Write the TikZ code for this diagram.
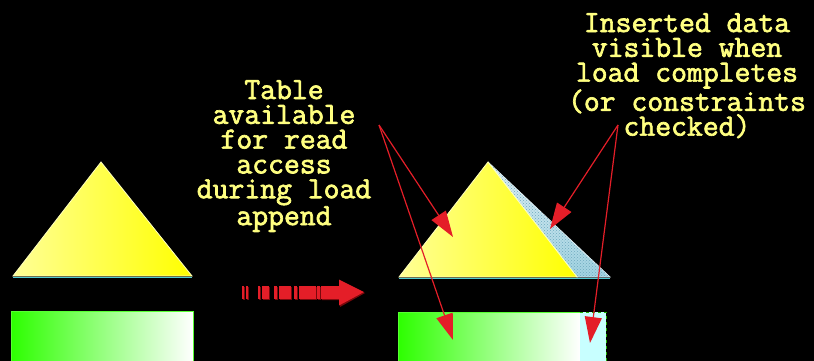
\documentclass[tikz,border=0pt]{standalone}
\usepackage{fontspec}
\newfontfamily\courb[FakeBold=2.2]{Latin Modern Mono}
\usetikzlibrary{arrows.meta,patterns}
\definecolor{txtyellow}{RGB}{255,255,128}
\definecolor{redarrow}{RGB}{228,30,40}
\definecolor{darkred}{RGB}{120,8,12}
\definecolor{ltyellow}{RGB}{255,255,150}
\definecolor{yel}{RGB}{255,255,0}
\definecolor{paleyel}{RGB}{255,255,190}
\definecolor{grn}{RGB}{45,255,0}
\definecolor{skyA}{RGB}{225,240,245}
\definecolor{skyB}{RGB}{160,210,225}
\definecolor{speck}{RGB}{110,170,190}
\definecolor{cyanbox}{RGB}{200,255,255}
\definecolor{edgecyan}{RGB}{80,200,210}
\tikzset{
  lbl/.style={font=\courb\fontsize{30.8}{24.8}\selectfont, text=txtyellow, align=center, inner sep=0pt, anchor=north},
  pointer/.style={draw=redarrow, line width=1.2pt, -{Triangle[length=26pt,width=17pt]}},
  tri/.style={left color=ltyellow, right color=yel, draw=paleyel, line width=0.8pt},
  grbox/.style={left color=grn, right color=white, draw=grn!80!white, line width=0.8pt},
}
\begin{document}
\begin{tikzpicture}[x=1pt,y=-1pt]
\fill[black] (0,0) rectangle (814,361);
\useasboundingbox (0,0) rectangle (814,361);

% left triangle and box
\shade[tri] (101,162) -- (192,276) -- (13,276) -- cycle;
\draw[edgecyan, line width=0.8pt] (13,277) -- (192,277);
\shade[grbox] (11,311) rectangle (193,365);

% dashed fat arrow
\foreach \a/\b in {242/244, 245.5/247.5, 258/260, 262/269, 274/277, 279/291, 294/297, 299/316, 317/320} {
  \fill[darkred] (\a+1,287) rectangle (\b+1,300);
  \fill[redarrow] (\a,286) rectangle (\b,299);
}
\fill[darkred] (322,287) -- (340,287) -- (340,281) -- (365,293) -- (340,307) -- (340,300) -- (322,300) -- cycle;
\fill[redarrow] (321,286) -- (339,286) -- (339,279.5) -- (364,292) -- (339,305.5) -- (339,299) -- (321,299) -- cycle;

% right pyramid
\shade[top color=skyA, bottom color=skyB, draw=skyA, line width=0.8pt] (488,162) -- (610,277) -- (577,277) -- cycle;
\fill[pattern=crosshatch dots, pattern color=speck] (488,162) -- (610,277) -- (577,277) -- cycle;
\shade[tri] (488,162) -- (577,277) -- (399,277) -- cycle;
\draw[edgecyan, line width=0.8pt] (399,278) -- (610,278);

% right boxes
\shade[grbox] (398,312) rectangle (580,365);
\fill[cyanbox] (580,312) rectangle (606,365);
\draw[grn!70!black, dashed, line width=1pt] (580,312) -- (606,312) -- (606,365);

% texts
\node[lbl] (t1) at (284,80) {Table\\available\\for read\\access\\during load\\append};
\node[lbl] (t2) at (687,13) {Inserted data\\visible when\\load completes\\(or constraints\\checked)};

% pointers
\coordinate (s1) at (379,125);
\coordinate (e1a) at (453,237);
\coordinate (e1b) at (453,340);
\coordinate (s2) at (618,125);
\coordinate (e2a) at (550,229);
\coordinate (e2b) at (590,343);
\draw[pointer] (s1) -- (e1a);
\draw[pointer] (s1) -- (e1b);
\draw[pointer] (s2) -- (e2a);
\draw[pointer] (s2) -- (e2b);
\end{tikzpicture}
\end{document}
